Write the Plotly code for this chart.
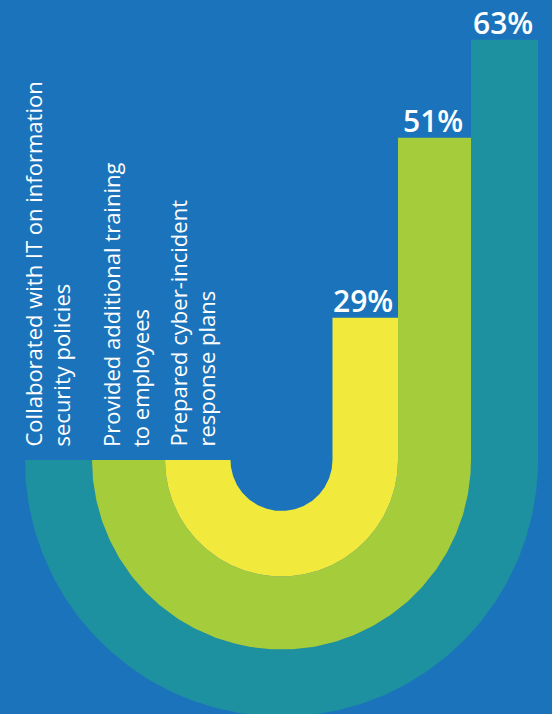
import numpy as np
import plotly.graph_objects as go

# ---- data ----
categories = [
    "Collaborated with IT on information<br>security policies",
    "Provided additional training<br>to employees",
    "Prepared cyber-incident<br>response plans",
]
values = [63, 51, 29]
value_labels = ["63%", "51%", "29%"]

# ---- style / layout ----
BG = "#1b74bb"
colors = ["#1d91a0", "#a4cc3b", "#f1e93b"]
W, H = 552, 714
CX, CY = 281.5, 460.0                 # centre of the U bends (layout units)
radii = [(189.5, 256.5), (116.5, 189.5), (51.0, 116.5)]  # inner, outer per band
label_x = [47, 125, 192]
label_bottom = 449

# linear value scale for the rising right-hand bars (layout units)
def y_of(v):
    return 555.0 - 8.18 * v

fig = go.Figure()
theta_out = np.linspace(np.pi, 0, 200)
theta_in = np.linspace(0, np.pi, 200)
for (r, R), v, c in zip(radii, values, colors):
    top = y_of(v)
    xs = list(CX + R * np.cos(theta_out)) + [CX + R, CX + r] + list(CX + r * np.cos(theta_in))
    ys = list(CY + R * np.sin(theta_out)) + [top, top] + list(CY + r * np.sin(theta_in))
    fig.add_trace(go.Scatter(x=xs, y=ys, fill="toself", fillcolor=c, mode="lines",
                             line=dict(width=0, color=c), hoverinfo="skip", showlegend=False))

for (r, R), v, t in zip(radii, values, value_labels):
    fig.add_annotation(x=CX + (r + R) / 2 - 2, y=y_of(v) - 17, text=t, showarrow=False,
                       xanchor="center", yanchor="middle",
                       font=dict(family="Open Sans", size=30, color="white", weight=600))

for cat, lx in zip(categories, label_x):
    fig.add_annotation(x=lx, y=label_bottom, text=cat, showarrow=False, textangle=-90,
                       xanchor="center", yanchor="bottom", align="left",
                       font=dict(family="Open Sans", size=22, color="white"))

fig.update_layout(
    width=W, height=H, autosize=False,
    margin=dict(l=0, r=0, t=0, b=0, pad=0),
    paper_bgcolor=BG, plot_bgcolor=BG,
    xaxis=dict(range=[0, W], visible=False, fixedrange=True),
    yaxis=dict(range=[H, 0], visible=False, fixedrange=True),
    showlegend=False,
)
fig.write_html("out.html")
